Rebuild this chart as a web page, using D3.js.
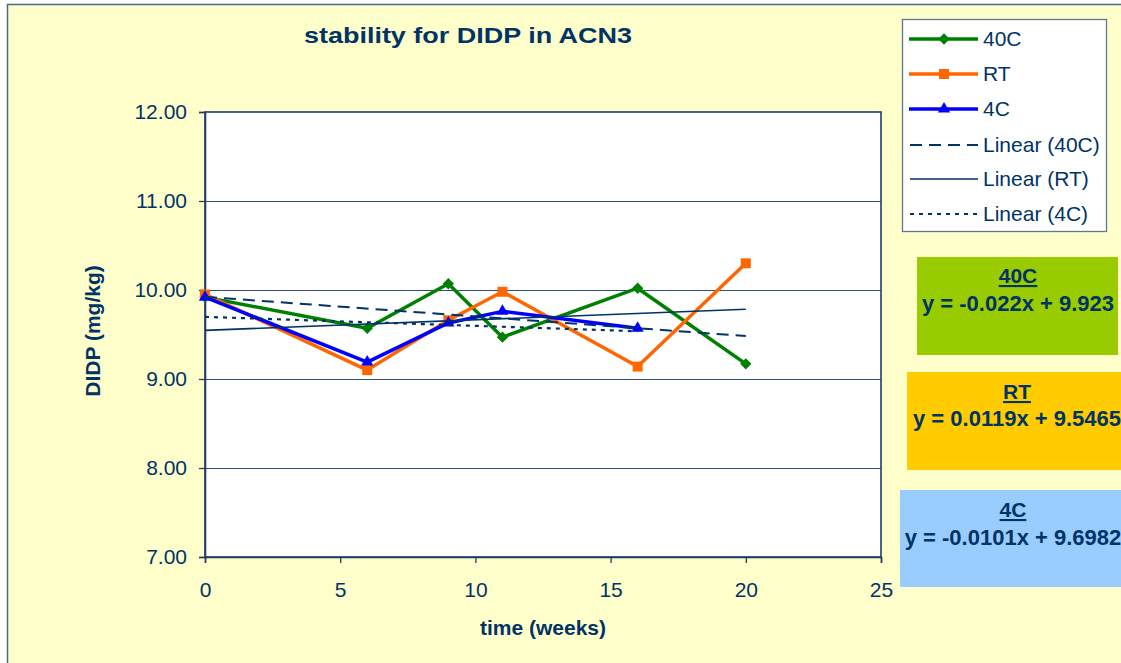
<!DOCTYPE html>
<html>
<head>
<meta charset="utf-8">
<script src="https://cdn.jsdelivr.net/npm/d3@7"></script>
<style>
  html, body { margin: 0; padding: 0; background: #ffffff; }
  svg { display: block; font-family: "Liberation Sans", Arial, sans-serif; }
</style>
</head>
<body>
<svg id="chart" width="1121" height="663"></svg>
<script>
// Sampling times (weeks) and measured DIDP content (mg/kg)
const weeks = [0, 6, 9, 11, 16, 20];
const weeks4C = [0, 6, 9, 11, 16];
const didp40C = [9.92, 9.57, 10.07, 9.47, 10.02, 9.17];
const didpRT = [9.95, 9.10, 9.66, 9.98, 9.14, 10.30];
const didp4C = [9.92, 9.19, 9.63, 9.76, 9.57];

const seriesNames = ["40C", "RT", "4C"];
const trendNames = ["Linear (40C)", "Linear (RT)", "Linear (4C)"];
// Least-squares trend lines: y = slope * x + intercept
const trendSlopes = [-0.022, 0.0119, -0.0101];
const trendIntercepts = [9.923, 9.5465, 9.6982];
const trendLabels = ["y = -0.022x + 9.923", "y = 0.0119x + 9.5465", "y = -0.0101x + 9.6982"];

const xTicks = [0, 5, 10, 15, 20, 25];
const yTicks = [7, 8, 9, 10, 11, 12];

const navy = "#003366";
const axisNavy = "#1f3d66";
const seriesColors = ["#008000", "#FF6600", "#0000FF"];
const boxColors = ["#99CC00", "#FFCC00", "#99CCFF"];

const svg = d3.select("#chart");

// Chart area
svg.append("rect")
  .attr("x", 7.5).attr("y", 4.5).attr("width", 1130).attr("height", 680)
  .attr("fill", "#FFFFCC").attr("stroke", "#4a6888").attr("stroke-width", 1.5);

// Title
svg.append("text")
  .attr("x", 304).attr("y", 42.5)
  .attr("textLength", 328).attr("lengthAdjust", "spacingAndGlyphs")
  .attr("font-size", 22.5).attr("font-weight", "bold").attr("fill", navy)
  .text("stability for DIDP in ACN3");

// Plot area
const plot = { left: 205, right: 881, top: 112, bottom: 557 };
const x = d3.scaleLinear().domain([0, 25]).range([plot.left, plot.right]);
const y = d3.scaleLinear().domain([7, 12]).range([plot.bottom, plot.top]);

svg.append("rect")
  .attr("x", plot.left).attr("y", plot.top)
  .attr("width", plot.right - plot.left).attr("height", plot.bottom - plot.top)
  .attr("fill", "#ffffff");

// Horizontal gridlines
svg.append("g").selectAll("line")
  .data(yTicks.filter(v => v > 7 && v < 12))
  .join("line")
  .attr("x1", plot.left).attr("x2", plot.right)
  .attr("y1", d => Math.round(y(d)) + 0.5).attr("y2", d => Math.round(y(d)) + 0.5)
  .attr("stroke", "#2f4d75").attr("stroke-width", 1.1);

svg.append("rect")
  .attr("x", plot.left).attr("y", plot.top)
  .attr("width", plot.right - plot.left).attr("height", plot.bottom - plot.top)
  .attr("fill", "none").attr("stroke", axisNavy).attr("stroke-width", 1.6);

// Axes
const yAxis = svg.append("g")
  .attr("transform", `translate(${plot.left},0)`)
  .call(d3.axisLeft(y).tickValues(yTicks).tickFormat(d3.format(".2f")).tickSize(6).tickPadding(12));
const xAxis = svg.append("g")
  .attr("transform", `translate(0,${plot.bottom})`)
  .call(d3.axisBottom(x).tickValues(xTicks).tickFormat(d3.format("d")).tickSize(6).tickPadding(19));
[yAxis, xAxis].forEach(g => {
  g.select(".domain").attr("stroke", axisNavy).attr("stroke-width", 1.6);
  g.selectAll(".tick line").attr("stroke", axisNavy).attr("stroke-width", 1.3);
  g.selectAll(".tick text").attr("fill", navy).attr("font-size", 21)
    .attr("font-family", "'Liberation Sans', Arial, sans-serif");
});

// Axis titles
svg.append("text")
  .attr("x", 543).attr("y", 635).attr("text-anchor", "middle")
  .attr("font-size", 21).attr("font-weight", "bold").attr("fill", navy)
  .text("time (weeks)");
svg.append("text")
  .attr("transform", "translate(100,331) rotate(-90)").attr("text-anchor", "middle")
  .attr("font-size", 21).attr("font-weight", "bold").attr("fill", navy)
  .text("DIDP (mg/kg)");

// Markers
const markerPath = [
  d3.symbol().type(d3.symbolSquare).size(64)(),   // drawn rotated -> diamond
  d3.symbol().type(d3.symbolSquare).size(100)(),
  d3.symbol().type(d3.symbolTriangle).size(64)()
];
const markerRotate = [45, 0, 0];

const seriesData = [
  weeks.map((w, i) => [w, didp40C[i]]),
  weeks.map((w, i) => [w, didpRT[i]]),
  weeks4C.map((w, i) => [w, didp4C[i]])
];

const line = d3.line().x(d => x(d[0])).y(d => y(d[1]));

seriesData.forEach((pts, s) => {
  const g = svg.append("g");
  g.append("path").attr("d", line(pts))
    .attr("fill", "none").attr("stroke", seriesColors[s])
    .attr("stroke-width", 3.5).attr("stroke-linejoin", "round");
  g.selectAll("path.m").data(pts).join("path").attr("class", "m")
    .attr("d", markerPath[s])
    .attr("transform", d => `translate(${x(d[0])},${y(d[1])}) rotate(${markerRotate[s]})`)
    .attr("fill", seriesColors[s]);
});

// Trend lines
const trendDash = ["12,7", null, "4,5"];
const trendWidth = [2, 1.6, 2.2];
seriesData.forEach((pts, s) => {
  const x0 = pts[0][0], x1 = pts[pts.length - 1][0];
  const tl = [x0, x1].map(v => [v, trendSlopes[s] * v + trendIntercepts[s]]);
  svg.append("path").attr("d", line(tl))
    .attr("fill", "none").attr("stroke", navy)
    .attr("stroke-width", trendWidth[s])
    .attr("stroke-dasharray", trendDash[s]);
});

// Legend
const legend = svg.append("g");
legend.append("rect")
  .attr("x", 902.5).attr("y", 19.5).attr("width", 204).attr("height", 212)
  .attr("fill", "#ffffff").attr("stroke", "#5d7895").attr("stroke-width", 1.3);
const rowY = [39, 74, 109, 145, 179, 214];
const legendItems = seriesNames.map((n, i) => ({ name: n, kind: "series", i }))
  .concat(trendNames.map((n, i) => ({ name: n, kind: "trend", i })));
legendItems.forEach((it, k) => {
  const cy = rowY[k];
  if (it.kind === "series") {
    legend.append("line").attr("x1", 909).attr("x2", 978).attr("y1", cy).attr("y2", cy)
      .attr("stroke", seriesColors[it.i]).attr("stroke-width", 3.5);
    legend.append("path").attr("d", markerPath[it.i])
      .attr("transform", `translate(944,${cy}) rotate(${markerRotate[it.i]})`)
      .attr("fill", seriesColors[it.i]);
  } else {
    legend.append("line").attr("x1", 910).attr("x2", 978).attr("y1", cy).attr("y2", cy)
      .attr("stroke", navy).attr("stroke-width", trendWidth[it.i])
      .attr("stroke-dasharray", trendDash[it.i]);
  }
  legend.append("text").attr("x", 983).attr("y", cy + 7)
    .attr("font-size", 21).attr("fill", navy).text(it.name);
});

// Trend equation boxes
const boxes = [
  { x0: 917, x1: 1118, y0: 257, y1: 355, cx: 1018, t: 283, e: 311 },
  { x0: 907, x1: 1130, y0: 372, y1: 470, cx: 1017, t: 399, e: 426 },
  { x0: 900, x1: 1130, y0: 490, y1: 587, cx: 1013, t: 517, e: 545 }
];
boxes.forEach((b, i) => {
  svg.append("rect").attr("x", b.x0).attr("y", b.y0)
    .attr("width", b.x1 - b.x0).attr("height", b.y1 - b.y0).attr("fill", boxColors[i]);
  svg.append("text").attr("x", b.cx).attr("y", b.t).attr("text-anchor", "middle")
    .attr("font-size", 21).attr("font-weight", "bold").attr("fill", navy)
    .attr("text-decoration", "underline").text(seriesNames[i]);
  svg.append("text").attr("x", b.cx).attr("y", b.e).attr("text-anchor", "middle")
    .attr("font-size", 22).attr("font-weight", "bold").attr("fill", navy)
    .text(trendLabels[i]);
});
</script>
</body>
</html>
